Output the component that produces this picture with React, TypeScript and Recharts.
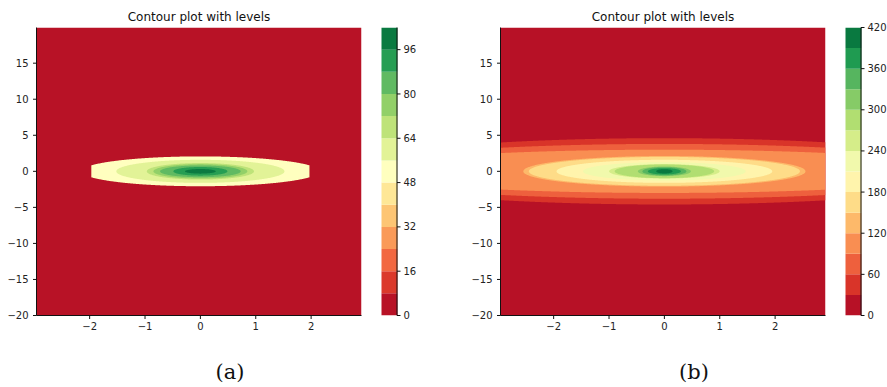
import { Area, Bar, BarChart, ComposedChart, XAxis, YAxis } from 'recharts'

// shared axes
const xTicks = [-2, -1, 0, 1, 2]
const yTicks = [-20, -15, -10, -5, 0, 5, 10, 15]
const xDomain: [number, number] = [-2.96, 2.91]
const yDomain: [number, number] = [-20, 19.95]

// panel (a)
const levelsA = [0, 8, 16, 24, 32, 40, 48, 56, 64, 72, 80, 88, 96, 104]
const cbTicksA = [0, 16, 32, 48, 64, 80, 96]
const ringLevelsA = [48, 56, 64, 72, 80, 88, 96]
const ringSemiXA = [2.15, 1.52, 0.97, 0.85, 0.73, 0.49, 0.28]
const ringSemiYA = [2.07, 1.6, 1.15, 1.0, 0.82, 0.6, 0.32]
const cutoffA = 1.97 // field drops to zero past |x| = 1.97

// panel (b)
const levelsB = [0, 30, 60, 90, 120, 150, 180, 210, 240, 270, 300, 330, 360, 390, 420]
const cbTicksB = [0, 60, 120, 180, 240, 300, 360, 420]
const ringLevelsB = [30, 60, 90, 120, 150, 180, 210, 240, 270, 300, 330, 360, 390]
const ringSemiXB = [6.0, 5.8, 5.5, 2.55, 2.45, 1.95, 1.47, 1.0, 0.9, 0.48, 0.4, 0.3, 0.15]
const ringSemiYB = [4.6, 3.8, 3.0, 2.12, 2.0, 1.6, 1.27, 1.0, 0.95, 0.67, 0.58, 0.44, 0.3]
const cutoffB = Infinity

// RdYlGn anchors
const rdylgn = ['#a50026', '#d73027', '#f46d43', '#fdae61', '#fee08b', '#ffffbf', '#d9ef8b', '#a6d96a', '#66bd63', '#1a9850', '#006837']

function cmap(t: number) {
  const p = Math.max(0, Math.min(1, t)) * 10
  const i = Math.min(9, Math.floor(p))
  const f = p - i
  const a = rdylgn[i], b = rdylgn[i + 1]
  const ch = (s: string, k: number) => parseInt(s.slice(1 + k * 2, 3 + k * 2), 16)
  const c = [0, 1, 2].map((k) => Math.round(ch(a, k) + (ch(b, k) - ch(a, k)) * f))
  return `rgb(${c[0]},${c[1]},${c[2]})`
}

const bandColor = (levels: number[], i: number) => cmap((i + 0.5) / (levels.length - 1))

const FONT = 'DejaVu Sans'
const tickStyle = { fontSize: 10, fill: '#222', fontFamily: FONT }
const minus = (v: number) => String(v).replace('-', '\u2212')

function sampleXs(semiX: number[], cutoff: number) {
  const xs = new Set<number>()
  const n = Math.round((xDomain[1] - xDomain[0]) / 0.01)
  for (let k = 0; k <= n; k++) xs.add(Math.round((xDomain[0] + k * 0.01) * 1000) / 1000)
  for (const a of semiX) {
    const e = Math.min(a, cutoff)
    if (e <= xDomain[1]) xs.add(e)
    if (-e >= xDomain[0]) xs.add(-e)
  }
  return [...xs].sort((p, q) => p - q).map((x) => ({ x }))
}

const ringKey = (a: number, b: number, cutoff: number) => (d: { x: number }) => {
  const lim = Math.min(a, cutoff)
  if (Math.abs(d.x) > lim + 1e-9) return null
  const h = b * Math.sqrt(Math.max(0, 1 - (d.x * d.x) / (a * a)))
  return [-h, h]
}

type PanelProps = {
  left: number
  levels: number[]
  ringLevels: number[]
  semiX: number[]
  semiY: number[]
  cutoff: number
}

function ContourPanel({ left, levels, ringLevels, semiX, semiY, cutoff }: PanelProps) {
  const data = sampleXs(semiX, cutoff)
  return (
    <div style={{ position: 'absolute', left, top: 0 }}>
      <div
        style={{
          position: 'absolute', left: 36.5, top: 10, width: 325, textAlign: 'center',
          fontFamily: FONT, fontSize: 12, lineHeight: '14px', color: '#111', whiteSpace: 'nowrap',
        }}
      >
        Contour plot with levels
      </div>
      <ComposedChart width={362} height={387} data={data} margin={{ top: 27.5, right: 0.5, bottom: 41.5, left: 0 }}>
        <XAxis
          dataKey="x" type="number" domain={xDomain} allowDataOverflow ticks={xTicks}
          tickFormatter={minus} tick={tickStyle} tickSize={3.5} tickMargin={4} height={30}
          axisLine={{ stroke: '#111' }} tickLine={{ stroke: '#111' }}
        />
        <XAxis
          xAxisId="top" orientation="top" dataKey="x" type="number" domain={xDomain} allowDataOverflow
          tick={false} tickLine={false} height={0} axisLine={{ stroke: '#111' }}
        />
        <YAxis
          type="number" domain={yDomain} allowDataOverflow ticks={yTicks} tickFormatter={minus}
          tick={tickStyle} tickSize={3.5} tickMargin={4.5} width={36.5}
          axisLine={{ stroke: '#111' }} tickLine={{ stroke: '#111' }}
        />
        <YAxis
          yAxisId="right" orientation="right" type="number" domain={yDomain} allowDataOverflow
          tick={false} tickLine={false} width={0} axisLine={{ stroke: '#111' }}
        />
        <Area
          dataKey={() => yDomain}
          type="linear" stroke="none" fill={bandColor(levels, 0)} fillOpacity={1}
          dot={false} activeDot={false} isAnimationActive={false}
        />
        {ringLevels.map((lvl, i) => (
          <Area
            key={lvl}
            dataKey={ringKey(semiX[i], semiY[i], cutoff)}
            type="linear" stroke="none" fill={bandColor(levels, levels.indexOf(lvl))} fillOpacity={1}
            dot={false} activeDot={false} isAnimationActive={false}
          />
        ))}
      </ComposedChart>
    </div>
  )
}

function ColorBar({ left, levels, ticks }: { left: number; levels: number[]; ticks: number[] }) {
  const row: Record<string, number | string> = { name: 'cb' }
  levels.slice(1).forEach((l, i) => { row[`b${i}`] = l - levels[i] })
  const top = levels[levels.length - 1]
  return (
    <div style={{ position: 'absolute', left, top: 0 }}>
      <BarChart
        width={56} height={387} data={[row]} barCategoryGap={0} barGap={0}
        margin={{ top: 27.5, right: 0, bottom: 71.5, left: 0.5 }}
      >
        <XAxis dataKey="name" tick={false} tickLine={false} height={0} axisLine={{ stroke: '#111' }} />
        <XAxis xAxisId="top" orientation="top" dataKey="name" tick={false} tickLine={false} height={0} axisLine={{ stroke: '#111' }} />
        <YAxis
          orientation="right" type="number" domain={[levels[0], top]} allowDataOverflow ticks={ticks}
          tick={tickStyle} tickSize={3.5} tickMargin={3} width={40}
          axisLine={{ stroke: '#111' }} tickLine={{ stroke: '#111' }}
        />
        <YAxis yAxisId="frame" orientation="left" domain={[levels[0], top]} tick={false} tickLine={false} width={0} axisLine={{ stroke: '#111' }} />
        {levels.slice(1).map((_, i) => (
          <Bar key={i} dataKey={`b${i}`} stackId="cb" fill={bandColor(levels, i)} isAnimationActive={false} />
        ))}
      </BarChart>
    </div>
  )
}

const captionStyle = {
  position: 'absolute' as const, top: 360, width: 60, textAlign: 'center' as const,
  fontFamily: 'DejaVu Serif', fontSize: 21, lineHeight: '24px', color: '#111',
}

export default function App() {
  return (
    <div style={{ position: 'absolute', left: 0, top: 0, width: 887, height: 387, background: '#fff', overflow: 'hidden' }}>
      <ContourPanel left={0} levels={levelsA} ringLevels={ringLevelsA} semiX={ringSemiXA} semiY={ringSemiYA} cutoff={cutoffA} />
      <ColorBar left={381} levels={levelsA} ticks={cbTicksA} />
      <ContourPanel left={464} levels={levelsB} ringLevels={ringLevelsB} semiX={ringSemiXB} semiY={ringSemiYB} cutoff={cutoffB} />
      <ColorBar left={845} levels={levelsB} ticks={cbTicksB} />
      <div style={{ ...captionStyle, left: 200 }}>(a)</div>
      <div style={{ ...captionStyle, left: 664 }}>(b)</div>
    </div>
  )
}
